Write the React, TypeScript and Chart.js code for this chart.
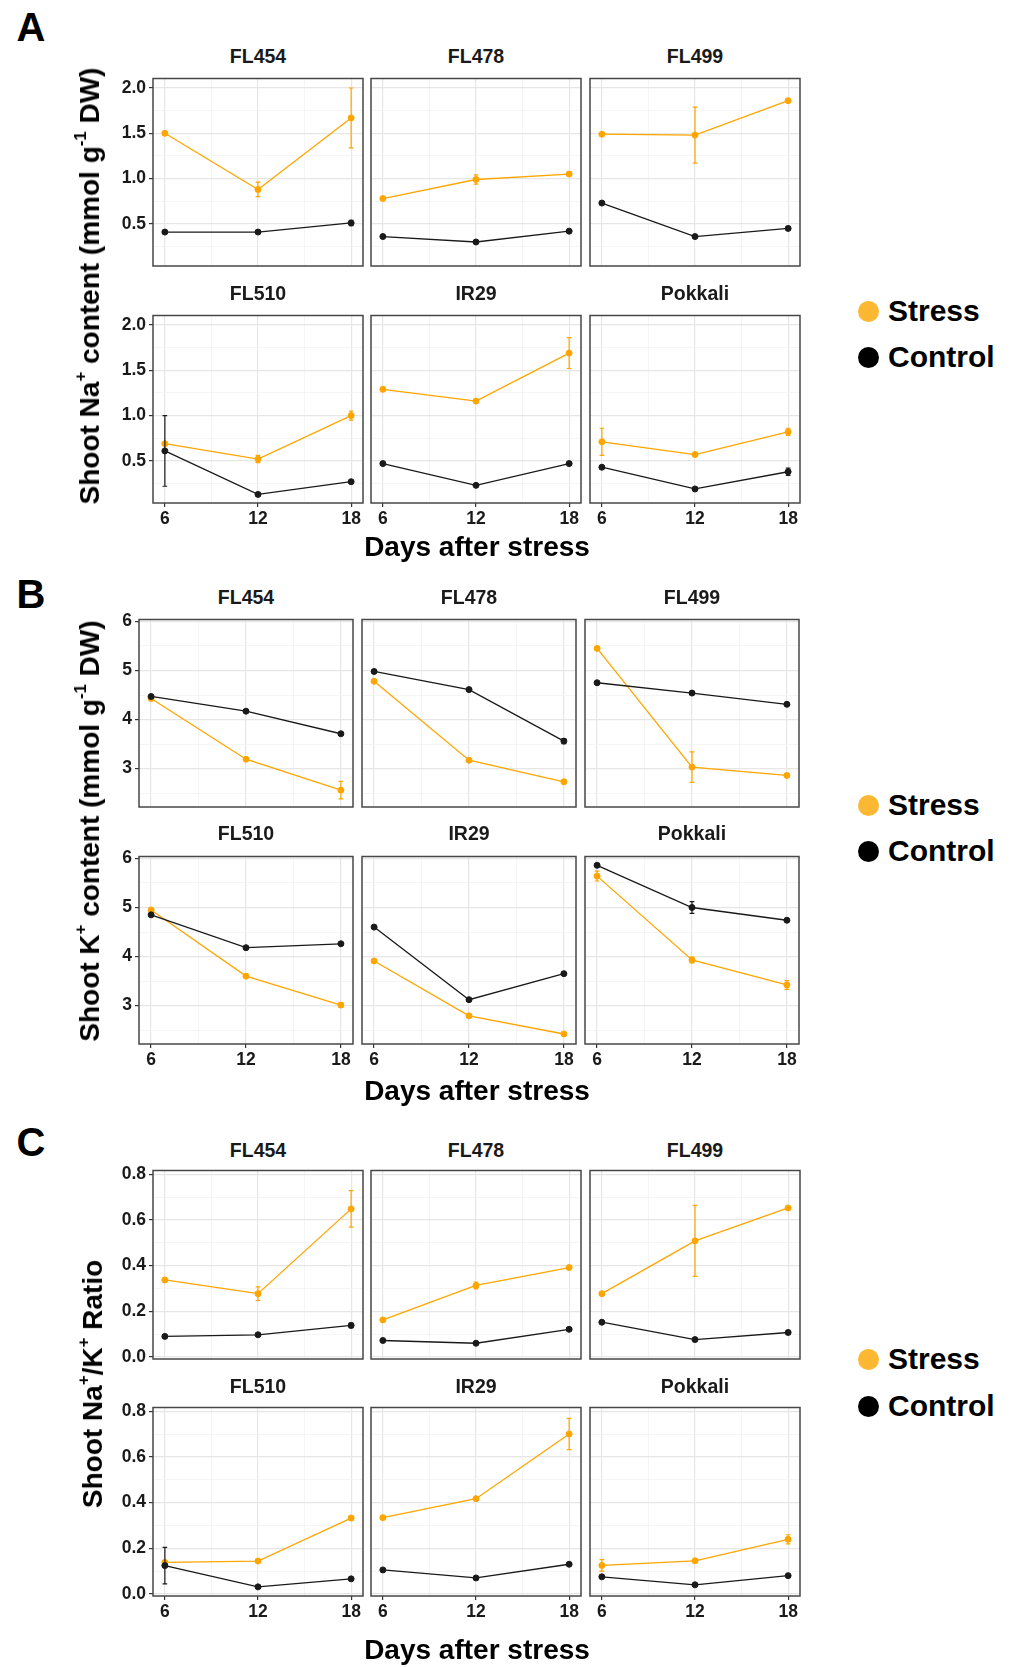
import React, { useEffect, useRef } from 'react';
import { Chart, registerables } from 'chart.js';

Chart.register(...registerables);

// ---------------- DATA ----------------
const DAYS = [6, 12, 18];
const X_MAJOR = [6, 12, 18];
const X_MINOR = [9, 15];
const CULTIVARS = ['FL454', 'FL478', 'FL499', 'FL510', 'IR29', 'Pokkali'];
const LEGEND_LABELS = ['Stress', 'Control'];

// Panel A: shoot Na+ content
const NA_STRESS = [
  [1.5, 0.88, 1.67],
  [0.78, 0.99, 1.05],
  [1.49, 1.48, 1.86],
  [0.69, 0.52, 1.0],
  [1.29, 1.16, 1.69],
  [0.71, 0.57, 0.82],
];
const NA_STRESS_ERR = [
  [0.01, 0.08, 0.33],
  [0.01, 0.05, 0.02],
  [0.01, 0.31, 0.01],
  [0.01, 0.04, 0.05],
  [0.01, 0.01, 0.17],
  [0.15, 0.01, 0.04],
];
const NA_CONTROL = [
  [0.41, 0.41, 0.51],
  [0.36, 0.3, 0.42],
  [0.73, 0.36, 0.45],
  [0.61, 0.13, 0.27],
  [0.47, 0.23, 0.47],
  [0.43, 0.19, 0.38],
];
const NA_CONTROL_ERR = [
  [0.01, 0.01, 0.03],
  [0.01, 0.01, 0.01],
  [0.01, 0.01, 0.01],
  [0.39, 0.01, 0.01],
  [0.01, 0.01, 0.01],
  [0.01, 0.01, 0.04],
];
const NA_Y_MAJOR = [0.5, 1.0, 1.5, 2.0];
const NA_Y_MINOR = [0.25, 0.75, 1.25, 1.75];

// Panel B: shoot K+ content
const K_STRESS = [
  [4.43, 3.19, 2.56],
  [4.78, 3.17, 2.73],
  [5.45, 3.03, 2.86],
  [4.95, 3.6, 3.01],
  [3.91, 2.79, 2.42],
  [5.64, 3.93, 3.42],
];
const K_STRESS_ERR = [
  [0.02, 0.02, 0.18],
  [0.02, 0.02, 0.04],
  [0.02, 0.31, 0.02],
  [0.02, 0.02, 0.05],
  [0.02, 0.02, 0.02],
  [0.1, 0.06, 0.09],
];
const K_CONTROL = [
  [4.47, 4.17, 3.71],
  [4.98, 4.61, 3.56],
  [4.75, 4.54, 4.31],
  [4.85, 4.18, 4.26],
  [4.6, 3.12, 3.65],
  [5.86, 5.0, 4.74],
];
const K_CONTROL_ERR = [
  [0.02, 0.02, 0.02],
  [0.02, 0.02, 0.05],
  [0.02, 0.02, 0.02],
  [0.02, 0.02, 0.02],
  [0.02, 0.02, 0.02],
  [0.02, 0.12, 0.02],
];
const K_Y_MAJOR = [3, 4, 5, 6];
const K_Y_MINOR = [2.5, 3.5, 4.5, 5.5];

// Panel C: shoot Na+/K+ ratio
const RATIO_STRESS = [
  [0.337, 0.277, 0.648],
  [0.162, 0.313, 0.391],
  [0.277, 0.508, 0.652],
  [0.138, 0.144, 0.332],
  [0.334, 0.417, 0.7],
  [0.125, 0.145, 0.239],
];
const RATIO_STRESS_ERR = [
  [0.004, 0.03, 0.08],
  [0.004, 0.015, 0.004],
  [0.004, 0.155, 0.004],
  [0.004, 0.004, 0.01],
  [0.004, 0.004, 0.068],
  [0.025, 0.004, 0.02],
];
const RATIO_CONTROL = [
  [0.09, 0.097, 0.138],
  [0.072, 0.06, 0.121],
  [0.152, 0.076, 0.107],
  [0.124, 0.031, 0.066],
  [0.105, 0.07, 0.13],
  [0.075, 0.04, 0.08],
];
const RATIO_CONTROL_ERR = [
  [0.003, 0.003, 0.01],
  [0.003, 0.003, 0.003],
  [0.003, 0.003, 0.003],
  [0.08, 0.003, 0.003],
  [0.003, 0.003, 0.003],
  [0.003, 0.003, 0.003],
];
const RATIO_Y_MAJOR = [0.0, 0.2, 0.4, 0.6, 0.8];
const RATIO_Y_MINOR = [0.1, 0.3, 0.5, 0.7];

// ---------------- STYLE / LAYOUT ----------------
const FONT = '"Liberation Sans", Arial, Helvetica, sans-serif';
const ORANGE = '#FFA500';
const BLACK = '#1A1A1A';
const LEGEND_ORANGE = '#FDB833';
const TEXT = '#1A1A1A';
const X_MIN = 5.235;
const X_MAX = 18.765;
const CAP = 0.15;

const PAD_L = 56;
const PAD_R = 6;
const PAD_T = 6;
const PAD_B = 32;

const isIn = (arr: number[], v: number) => arr.some((m) => Math.abs(m - v) < 1e-9);

const errorBarPlugin = {
  id: 'errorBars',
  afterDatasetDraw(chart: any, args: any) {
    const ds = chart.data.datasets[args.index];
    const errs: number[] | undefined = ds.errors;
    if (!errs) return;
    const xs = chart.scales.x;
    const ys = chart.scales.y;
    const ctx = chart.ctx;
    ctx.save();
    ctx.strokeStyle = ds.borderColor;
    ctx.lineWidth = 1.2;
    ds.data.forEach((p: any, i: number) => {
      const e = errs[i];
      if (!e) return;
      const x = xs.getPixelForValue(p.x);
      const xl = xs.getPixelForValue(p.x - CAP);
      const xr = xs.getPixelForValue(p.x + CAP);
      const yt = ys.getPixelForValue(p.y + e);
      const yb = ys.getPixelForValue(p.y - e);
      ctx.beginPath();
      ctx.moveTo(x, yt);
      ctx.lineTo(x, yb);
      ctx.moveTo(xl, yt);
      ctx.lineTo(xr, yt);
      ctx.moveTo(xl, yb);
      ctx.lineTo(xr, yb);
      ctx.stroke();
    });
    ctx.restore();
  },
};

const borderPlugin = {
  id: 'panelBorder',
  afterDraw(chart: any) {
    const a = chart.chartArea;
    const ctx = chart.ctx;
    ctx.save();
    ctx.strokeStyle = '#474747';
    ctx.lineWidth = 1.5;
    ctx.strokeRect(a.left, a.top, a.right - a.left, a.bottom - a.top);
    ctx.restore();
  },
};

type FacetProps = {
  left: number;
  top: number;
  w: number;
  h: number;
  showX: boolean;
  showY: boolean;
  yMin: number;
  yMax: number;
  yMajor: number[];
  yMinor: number[];
  decimals: number;
  stress: number[];
  stressErr: number[];
  control: number[];
  controlErr: number[];
};

function Facet(p: FacetProps) {
  const ref = useRef<HTMLCanvasElement>(null);
  const W = p.w + PAD_L + PAD_R;
  const H = p.h + PAD_T + PAD_B;
  useEffect(() => {
    if (!ref.current) return;
    const tickFont = { family: FONT, size: 17.5, weight: 'bold' as const };
    const chart = new Chart(ref.current, {
      type: 'line',
      data: {
        datasets: [
          {
            label: 'Control',
            data: DAYS.map((d, i) => ({ x: d, y: p.control[i] })),
            borderColor: BLACK,
            backgroundColor: BLACK,
            pointBackgroundColor: BLACK,
            pointBorderColor: BLACK,
            pointRadius: 3,
            pointBorderWidth: 1,
            borderWidth: 1.3,
            tension: 0,
            errors: p.controlErr,
          } as any,
          {
            label: 'Stress',
            data: DAYS.map((d, i) => ({ x: d, y: p.stress[i] })),
            borderColor: ORANGE,
            backgroundColor: ORANGE,
            pointBackgroundColor: ORANGE,
            pointBorderColor: ORANGE,
            pointRadius: 3,
            pointBorderWidth: 1,
            borderWidth: 1.3,
            tension: 0,
            errors: p.stressErr,
          } as any,
        ],
      },
      options: {
        animation: false,
        responsive: false,
        devicePixelRatio: 1,
        layout: { padding: { top: PAD_T, right: PAD_R, left: 0, bottom: 0 }, autoPadding: false } as any,
        plugins: { legend: { display: false }, tooltip: { enabled: false }, title: { display: false } },
        scales: {
          x: {
            type: 'linear',
            min: X_MIN,
            max: X_MAX,
            afterBuildTicks: (s: any) => {
              s.ticks = [...X_MAJOR, ...X_MINOR].sort((a, b) => a - b).map((v) => ({ value: v }));
            },
            afterFit: (s: any) => {
              s.height = PAD_B;
            },
            border: { display: false },
            grid: {
              drawTicks: true,
              tickLength: 4,
              color: (c: any) => (isIn(X_MAJOR, c.tick?.value) ? '#E6E6E6' : '#F1F1F1'),
              lineWidth: (c: any) => (isIn(X_MAJOR, c.tick?.value) ? 1.2 : 0.7),
              tickColor: (c: any) => (p.showX && isIn(X_MAJOR, c.tick?.value) ? '#333333' : 'rgba(0,0,0,0)'),
              tickWidth: 1.2,
            },
            ticks: {
              autoSkip: false,
              maxRotation: 0,
              padding: 2,
              color: TEXT,
              font: tickFont,
              callback: (v: any) => (p.showX && isIn(X_MAJOR, Number(v)) ? String(v) : ''),
            },
          },
          y: {
            type: 'linear',
            min: p.yMin,
            max: p.yMax,
            afterBuildTicks: (s: any) => {
              s.ticks = [...p.yMajor, ...p.yMinor].sort((a, b) => a - b).map((v) => ({ value: v }));
            },
            afterFit: (s: any) => {
              s.width = PAD_L;
            },
            border: { display: false },
            grid: {
              drawTicks: true,
              tickLength: 4,
              color: (c: any) => (isIn(p.yMajor, c.tick?.value) ? '#E6E6E6' : '#F1F1F1'),
              lineWidth: (c: any) => (isIn(p.yMajor, c.tick?.value) ? 1.2 : 0.7),
              tickColor: (c: any) => (p.showY && isIn(p.yMajor, c.tick?.value) ? '#333333' : 'rgba(0,0,0,0)'),
              tickWidth: 1.2,
            },
            ticks: {
              autoSkip: false,
              padding: 3,
              color: TEXT,
              font: tickFont,
              callback: (v: any) => (p.showY && isIn(p.yMajor, Number(v)) ? Number(v).toFixed(p.decimals) : ''),
            },
          },
        },
      },
      plugins: [errorBarPlugin, borderPlugin],
    } as any);
    return () => chart.destroy();
  }, []);
  return (
    <canvas
      ref={ref}
      width={W}
      height={H}
      style={{ position: 'absolute', left: p.left - PAD_L, top: p.top - PAD_T, width: W, height: H }}
    />
  );
}

const sup = (t: string) => (
  <span style={{ fontSize: '0.6em', position: 'relative', top: '-0.75em' }}>{t}</span>
);

const PANELS = [
  {
    letter: 'A',
    letterPos: [31, 27],
    cols: [153, 371, 590],
    colW: 210,
    rows: [71, 308],
    rowH: 195,
    yMin: 0.035,
    yMax: 2.105,
    yMajor: NA_Y_MAJOR,
    yMinor: NA_Y_MINOR,
    decimals: 1,
    stress: NA_STRESS,
    stressErr: NA_STRESS_ERR,
    control: NA_CONTROL,
    controlErr: NA_CONTROL_ERR,
    yTitle: (
      <>
        Shoot Na{sup('+')} content (mmol g{sup('-1')} DW)
      </>
    ),
    yTitlePos: [90, 286],
    xTitleY: 547,
    stripY: [57, 294],
    legendY: [311, 357],
  },
  {
    letter: 'B',
    letterPos: [31, 594],
    cols: [139, 362, 585],
    colW: 214,
    rows: [612, 849],
    rowH: 195,
    yMin: 2.216,
    yMax: 6.04,
    yMajor: K_Y_MAJOR,
    yMinor: K_Y_MINOR,
    decimals: 0,
    stress: K_STRESS,
    stressErr: K_STRESS_ERR,
    control: K_CONTROL,
    controlErr: K_CONTROL_ERR,
    yTitle: (
      <>
        Shoot K{sup('+')} content (mmol g{sup('-1')} DW)
      </>
    ),
    yTitlePos: [90, 831],
    xTitleY: 1091,
    stripY: [598, 834],
    legendY: [805, 851],
  },
  {
    letter: 'C',
    letterPos: [31, 1142],
    cols: [153, 371, 590],
    colW: 210,
    rows: [1163, 1400],
    rowH: 196,
    yMin: -0.009,
    yMax: 0.816,
    yMajor: RATIO_Y_MAJOR,
    yMinor: RATIO_Y_MINOR,
    decimals: 1,
    stress: RATIO_STRESS,
    stressErr: RATIO_STRESS_ERR,
    control: RATIO_CONTROL,
    controlErr: RATIO_CONTROL_ERR,
    yTitle: (
      <>
        Shoot Na{sup('+')}/K{sup('+')} Ratio
      </>
    ),
    yTitlePos: [93, 1384],
    xTitleY: 1650,
    stripY: [1151, 1387],
    legendY: [1359, 1406],
  },
];

const centered = (x: number, y: number, extra: React.CSSProperties = {}): React.CSSProperties => ({
  position: 'absolute',
  left: x,
  top: y,
  transform: 'translate(-50%, -50%)',
  whiteSpace: 'nowrap',
  lineHeight: 1,
  fontFamily: FONT,
  fontWeight: 'bold',
  color: TEXT,
  ...extra,
});

export default function App() {
  return (
    <div
      style={{
        position: 'absolute',
        left: 0,
        top: 0,
        width: 1016,
        height: 1667,
        background: '#FFFFFF',
        overflow: 'hidden',
        fontFamily: FONT,
      }}
    >
      {PANELS.map((pn) => (
        <React.Fragment key={pn.letter}>
          <div style={centered(pn.letterPos[0], pn.letterPos[1], { fontSize: 40, color: '#000' })}>{pn.letter}</div>
          {CULTIVARS.map((name, ci) => {
            const r = Math.floor(ci / 3);
            const c = ci % 3;
            const left = pn.cols[c];
            const top = pn.rows[r];
            return (
              <React.Fragment key={name}>
                <div style={centered(left + pn.colW / 2, pn.stripY[r], { fontSize: 19.5 })}>{name}</div>
                <Facet
                  left={left}
                  top={top}
                  w={pn.colW}
                  h={pn.rowH}
                  showX={r === 1}
                  showY={c === 0}
                  yMin={pn.yMin}
                  yMax={pn.yMax}
                  yMajor={pn.yMajor}
                  yMinor={pn.yMinor}
                  decimals={pn.decimals}
                  stress={pn.stress[ci]}
                  stressErr={pn.stressErr[ci]}
                  control={pn.control[ci]}
                  controlErr={pn.controlErr[ci]}
                />
              </React.Fragment>
            );
          })}
          <div style={centered(pn.yTitlePos[0], pn.yTitlePos[1], { fontSize: 28, color: '#000', transform: 'translate(-50%, -50%) rotate(-90deg)' })}>
            {pn.yTitle}
          </div>
          <div style={centered(477, pn.xTitleY, { fontSize: 28, color: '#000' })}>Days after stress</div>
          {LEGEND_LABELS.map((lab, li) => (
            <React.Fragment key={lab}>
              <div
                style={{
                  position: 'absolute',
                  left: 868 - 10.5,
                  top: pn.legendY[li] - 10.5,
                  width: 21,
                  height: 21,
                  borderRadius: '50%',
                  background: li === 0 ? LEGEND_ORANGE : '#000',
                }}
              />
              <div
                style={{
                  position: 'absolute',
                  left: 888,
                  top: pn.legendY[li],
                  transform: 'translateY(-50%)',
                  fontSize: 30,
                  fontWeight: 'bold',
                  lineHeight: 1,
                  whiteSpace: 'nowrap',
                  color: '#000',
                  fontFamily: FONT,
                }}
              >
                {lab}
              </div>
            </React.Fragment>
          ))}
        </React.Fragment>
      ))}
    </div>
  );
}
